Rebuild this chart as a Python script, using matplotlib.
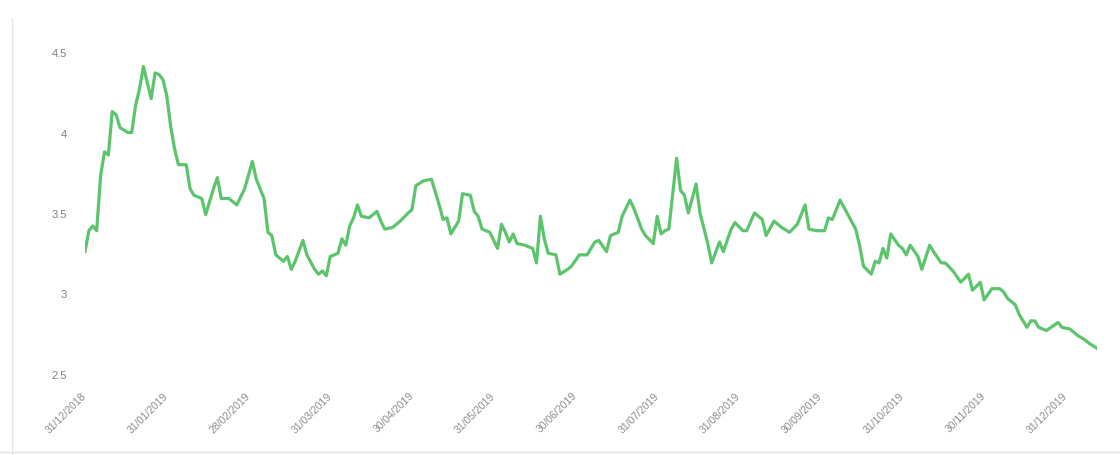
import numpy as np
from matplotlib import pyplot as plt
from matplotlib.lines import Line2D

plt.rcParams['font.family'] = ['Liberation Sans', 'DejaVu Sans']

# trading-day index and value
day = [0, 1, 2, 3, 4, 5, 6, 7, 8, 9, 11, 12, 13, 14, 15, 17, 18, 19, 20, 21,
       22, 23, 24, 26, 27, 28, 30, 31, 33, 34, 35, 37, 39, 41, 43, 44, 46, 47, 48, 49,
       51, 52, 53, 54, 56, 57, 59, 60, 61, 62, 63, 65, 66, 67, 68, 69, 70, 71, 73, 75,
       76, 77, 79, 81, 83, 84, 85, 87, 89, 91, 92, 93, 94, 96, 97, 99, 100, 101, 102, 104,
       106, 107, 108, 109, 110, 111, 113, 115, 116, 117, 118, 119, 121, 122, 124, 125, 127, 129, 131, 132,
       134, 135, 137, 138, 140, 141, 143, 144, 146, 147, 148, 149, 150, 152, 153, 154, 155, 157, 158, 160,
       161, 163, 164, 166, 167, 169, 170, 172, 174, 175, 177, 179, 181, 183, 185, 186, 188, 190, 191, 192,
       194, 196, 198, 199, 200, 202, 203, 204, 205, 206, 207, 209, 210, 211, 212, 214, 215, 217, 218, 220,
       221, 223, 225, 227, 228, 230, 231, 233, 235, 236, 237, 239, 240, 242, 243, 244, 245, 247, 250, 251,
       253, 255, 257, 258, 260]
value = [3.26, 3.39, 3.42, 3.39, 3.73, 3.88, 3.86, 4.13, 4.11, 4.03, 4.00, 4.00, 4.17, 4.27, 4.41, 4.21, 4.37, 4.36, 4.33, 4.23,
         4.04, 3.90, 3.80, 3.80, 3.65, 3.61, 3.59, 3.49, 3.65, 3.72, 3.59, 3.59, 3.55, 3.65, 3.82, 3.71, 3.59, 3.38, 3.36, 3.24,
         3.20, 3.23, 3.15, 3.20, 3.33, 3.24, 3.15, 3.12, 3.14, 3.11, 3.23, 3.25, 3.34, 3.30, 3.42, 3.47, 3.55, 3.48, 3.47, 3.51,
         3.45, 3.40, 3.41, 3.45, 3.50, 3.52, 3.67, 3.70, 3.71, 3.55, 3.46, 3.47, 3.37, 3.45, 3.62, 3.61, 3.51, 3.48, 3.40, 3.38,
         3.28, 3.43, 3.38, 3.32, 3.37, 3.31, 3.30, 3.28, 3.19, 3.48, 3.34, 3.25, 3.24, 3.12, 3.15, 3.17, 3.24, 3.24, 3.32, 3.33,
         3.26, 3.36, 3.38, 3.48, 3.58, 3.53, 3.40, 3.36, 3.31, 3.48, 3.37, 3.39, 3.40, 3.84, 3.64, 3.61, 3.50, 3.68, 3.50, 3.31,
         3.19, 3.32, 3.26, 3.40, 3.44, 3.39, 3.39, 3.50, 3.46, 3.36, 3.45, 3.41, 3.38, 3.43, 3.55, 3.40, 3.39, 3.39, 3.47, 3.46,
         3.58, 3.49, 3.40, 3.30, 3.17, 3.12, 3.20, 3.19, 3.28, 3.22, 3.37, 3.30, 3.28, 3.24, 3.30, 3.23, 3.15, 3.30, 3.26, 3.19,
         3.19, 3.14, 3.07, 3.12, 3.02, 3.07, 2.96, 3.03, 3.03, 3.01, 2.97, 2.93, 2.87, 2.79, 2.83, 2.83, 2.79, 2.77, 2.82, 2.79,
         2.78, 2.74, 2.71, 2.69, 2.66]

date_labels = ['31/12/2018', '31/01/2019', '28/02/2019', '31/03/2019', '30/04/2019',
               '31/05/2019', '30/06/2019', '31/07/2019', '31/08/2019', '30/09/2019',
               '31/10/2019', '30/11/2019', '31/12/2019']
y_ticks = [2.5, 3, 3.5, 4, 4.5]
y_labels = ['2.5', '3', '3.5', '4', '4.5']

fig = plt.figure(figsize=(11.2, 4.56), dpi=100)
ax = fig.add_axes([85/1120, 81/456, 1012/1120, 322/456])

ax.plot(day, value, color='#5cc46c', lw=2.3, solid_joinstyle='round')

ax.set_xlim(0, 260)
ax.set_ylim(2.5, 4.5)
ax.set_yticks(y_ticks)
ax.set_yticklabels(y_labels)
ax.set_xticks(np.arange(len(date_labels)) * 21)
ax.set_xticklabels(date_labels, rotation=45, ha='right', va='center',
                   rotation_mode='anchor')
ax.tick_params(axis='x', length=0, pad=14, labelsize=7.5, labelcolor='#8c8c8c')
ax.tick_params(axis='y', length=0, pad=13, labelsize=8, labelcolor='#7f7f7f')
for s in ax.spines.values():
    s.set_visible(False)

# faint chart border
fig.add_artist(Line2D([12/1120, 12/1120], [0, 436/456], color='#e3e3e3', lw=1))
fig.add_artist(Line2D([0, 1], [3/456, 3/456], color='#e3e3e3', lw=1))

fig.savefig('out.png', dpi=100)
